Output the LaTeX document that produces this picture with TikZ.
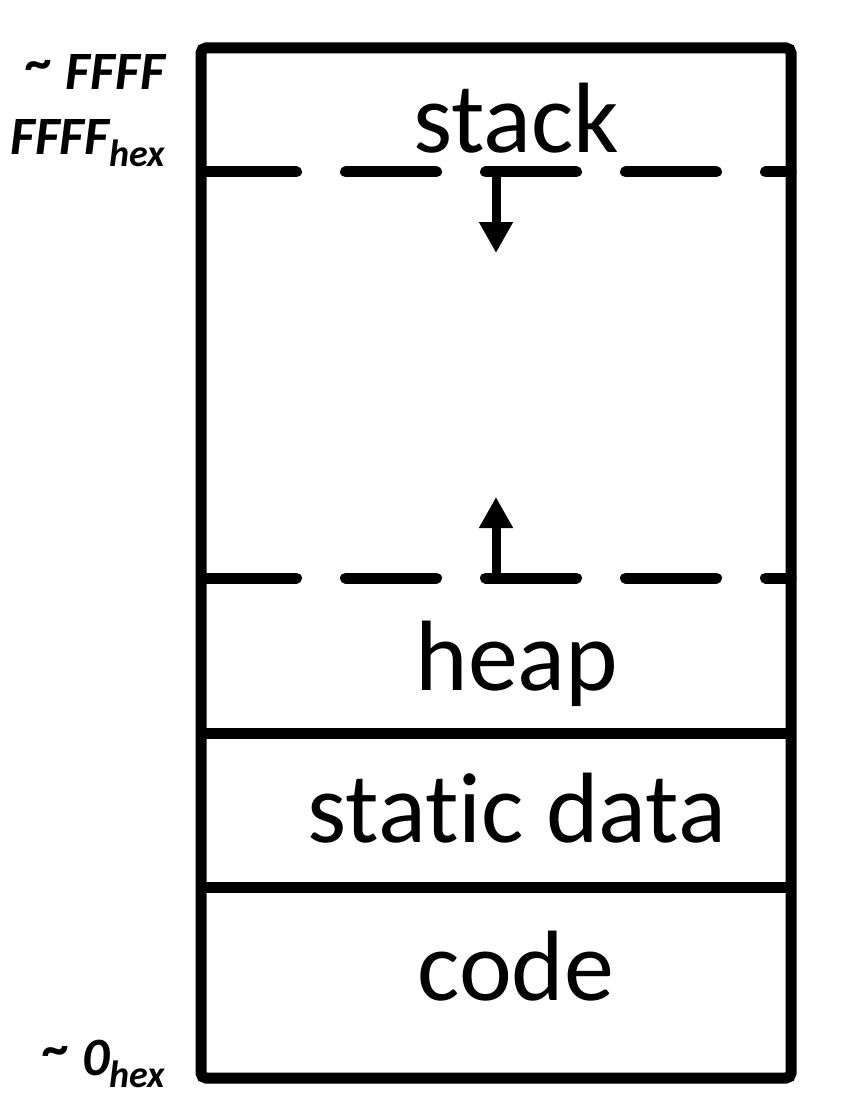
\documentclass[tikz,border=0pt]{standalone}
\usepackage{fontspec}
\setmainfont{Carlito}[Ligatures=NoCommon]
\usetikzlibrary{arrows.meta}
\tikzset{
  frame/.style={line width=11pt, rounded corners=5pt},
  divider/.style={line width=11pt},
  dashdiv/.style={line width=11pt, line cap=round, dash pattern=on 91pt off 49pt},
  growarrow/.style={line width=9pt, -{Triangle[length=31pt, width=32pt]}},
  region/.style={anchor=base, inner sep=0pt, font=\fontsize{100}{110}\selectfont},
  addr/.style={anchor=base east, inner sep=0pt, font=\fontsize{54}{60}\selectfont\bfseries\itshape},
}
\newcommand{\hexsub}{\raisebox{-12pt}{\fontsize{38}{40}\selectfont hex}}
\newcommand{\approxmark}{\raisebox{9pt}{\char`\~}}
\begin{document}
\begin{tikzpicture}[x=1pt, y=-1pt]
\useasboundingbox (0,0) rectangle (846,1102);
% outer frame
\draw[frame] (201,48) rectangle (791,1078);
% dashed boundaries
\coordinate (d1l) at (205.5,172);
\coordinate (d1r) at (791,172);
\coordinate (d2l) at (205.5,578);
\coordinate (d2r) at (791,578);
\draw[dashdiv] (d1l) -- (d1r);
\draw[dashdiv] (d2l) -- (d2r);
% solid dividers
\coordinate (s1l) at (201,733);
\coordinate (s1r) at (791,733);
\coordinate (s2l) at (201,887);
\coordinate (s2r) at (791,887);
\draw[divider] (s1l) -- (s1r);
\draw[divider] (s2l) -- (s2r);
% growth arrows
\coordinate (a1s) at (496,172);
\coordinate (a1e) at (496,253);
\coordinate (a2s) at (496,578);
\coordinate (a2e) at (496,497);
\draw[growarrow] (a1s) -- (a1e);
\draw[growarrow] (a2s) -- (a2e);
% region labels
\node[region] (stack) at (516,153) {stack};
\node[region] (heap) at (517,690) {heap};
\node[region] (static) at (517,842) {static data};
\node[region] (code) at (516,1000) {code};
% address labels
\node[addr] (hi1) at (165,90) {\approxmark\ FFFF};
\node[addr] (hi2) at (165,155) {FFFF\hexsub};
\node[addr] (lo) at (165,1075) {\approxmark\ 0\hexsub};
\end{tikzpicture}
\end{document}
